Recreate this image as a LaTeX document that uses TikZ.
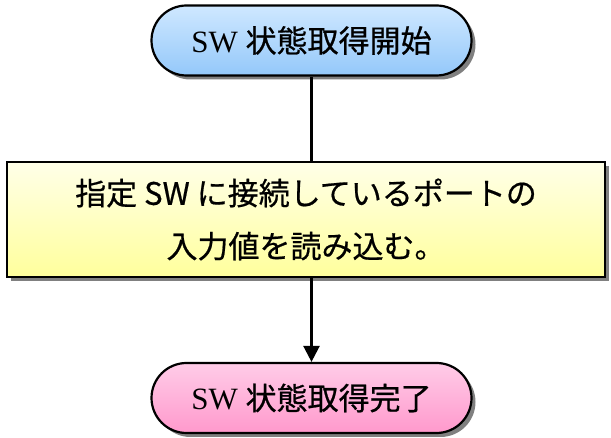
\documentclass[tikz,border=0pt]{standalone}
\usepackage{fontspec}
\setmainfont{Liberation Serif}
\newfontfamily\jp[FakeBold=0.6]{Noto Sans CJK JP}
\newfontfamily\jpsans[FakeBold=0.6]{Noto Sans CJK JP}
\usetikzlibrary{shadows,arrows.meta}
\definecolor{bluetop}{HTML}{CFE8FF}
\definecolor{bluebot}{HTML}{94C8FA}
\definecolor{yellowtop}{HTML}{FFFFE8}
\definecolor{yellowbot}{HTML}{FFFF9C}
\definecolor{pinktop}{HTML}{FFCCE8}
\definecolor{pinkbot}{HTML}{FF99CC}
\tikzset{
  termbox/.style={draw=black, line width=2.2pt, rounded corners=35pt,
    minimum width=320pt, minimum height=70pt, inner sep=0pt,
    drop shadow={shadow xshift=4pt, shadow yshift=-4pt, fill=black!50, opacity=1},
    font=\fontsize{31}{33}\selectfont},
  procbox/.style={draw=black, line width=2.2pt, rectangle,
    minimum width=598pt, minimum height=115pt, inner sep=0pt,
    top color=yellowtop, bottom color=yellowbot,
    drop shadow={shadow xshift=4pt, shadow yshift=-4pt, fill=black!50, opacity=1},
    align=center, font=\jpsans\fontsize{31}{53}\selectfont},
  conn/.style={line width=2.4pt, draw=black},
}
\begin{document}
\begin{tikzpicture}[x=1pt,y=-1pt]
\useasboundingbox (0,0) rectangle (611,438);
\node[termbox, top color=bluetop, bottom color=bluebot] (start) at (311.5,40.5)
  {SW {\jp 状態取得開始}};
\node[procbox] (proc) at (306,219.5)
  {指定 SW に接続しているポートの\\入力値を読み込む。};
\node[termbox, top color=pinktop, bottom color=pinkbot] (end) at (311.5,398)
  {SW {\jp 状態取得完了}};
\draw[conn] (start.south) -- (start.south |- proc.north);
\draw[conn, -{Triangle[length=16pt,width=16pt]}] (end.north |- proc.south) -- (end.north);
\end{tikzpicture}
\end{document}
